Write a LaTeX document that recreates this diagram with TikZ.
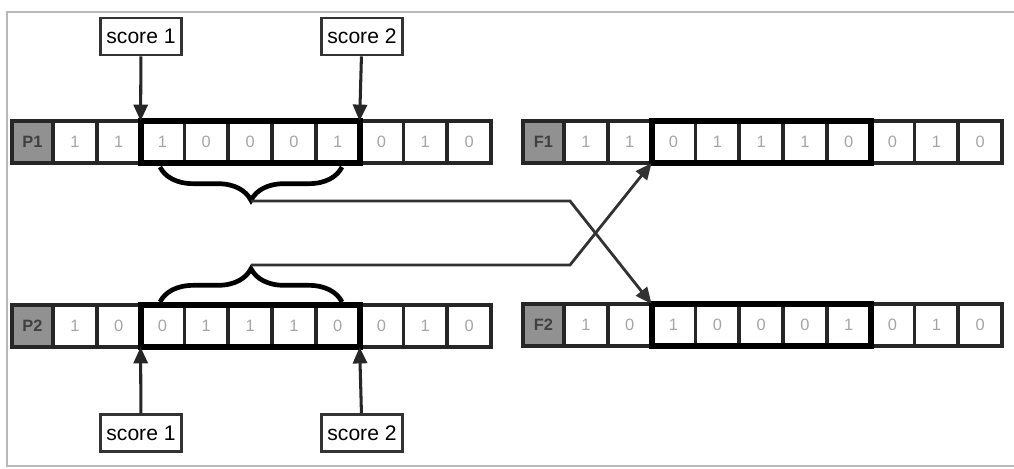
\documentclass[tikz,border=0pt]{standalone}
\usepackage{fontspec}
\setmainfont{Liberation Sans}
\usepackage{xcolor}
\usetikzlibrary{arrows.meta, decorations.pathreplacing}

\definecolor{tagfill}{RGB}{145,145,145}
\definecolor{bitgray}{RGB}{165,165,165}
\definecolor{wire}{RGB}{50,50,50}
\definecolor{framegray}{RGB}{185,185,185}

\tikzset{
    cell/.style={draw=black!85, line width=3pt, minimum width=1.314cm, minimum height=1.26cm,
        inner sep=0pt, outer sep=0pt, text=bitgray, font=\fontsize{14}{14}\selectfont},
    tag/.style={cell, fill=tagfill, minimum width=1.23cm, text=black!75,
        font=\bfseries\fontsize{14}{14}\selectfont},
    selbox/.style={draw=black, line width=5pt},
    scorebox/.style={draw=black!80, line width=2.5pt, fill=white, minimum width=2.43cm,
        minimum height=1.11cm, inner sep=0pt, font=\fontsize{18}{18}\selectfont},
    pointer/.style={-{Triangle[length=14pt, width=12pt]}, line width=2.6pt, draw=black!85},
    link/.style={pointer, draw=wire, line width=2.4pt},
    curly/.style={decorate, decoration={brace, amplitude=1cm}, line width=4pt}
}

\begin{document}
\begin{tikzpicture}[x=0.03cm, y=-0.03cm]
    \useasboundingbox (0,0) rectangle (1014,468);
    % frame
    \draw[framegray, line width=1.2pt] (1014,12) -- (7,12) -- (7,466) -- (1014,466);

    % chromosomes
    \foreach \row/\xo/\yo/\bits in {P1/12/142/{1,1,1,0,0,0,1,0,1,0},
                                    F1/523/142/{1,1,0,1,1,1,0,0,1,0},
                                    P2/12/326/{1,0,0,1,1,1,0,0,1,0},
                                    F2/523/325/{1,0,1,0,0,0,1,0,1,0}} {
        \node[tag] (\row-0) at (\xo+20.5,\yo) {\row};
        \foreach \b [count=\i] in \bits
            \node[cell] (\row-\i) at (\xo+41+43.8*\i-21.9,\yo) {\b};
        \draw[selbox] (\row-3.north west) rectangle (\row-7.south east);
    }

    % cut points
    \node[scorebox] (s1top) at (141,36.5) {score 1};
    \node[scorebox] (s2top) at (362,36.5) {score 2};
    \node[scorebox] (s1bot) at (141,433) {score 1};
    \node[scorebox] (s2bot) at (362,433) {score 2};
    \draw[pointer] (s1top) -- (P1-3.north west);
    \draw[pointer] (s2top) -- (P1-7.north east);
    \draw[pointer] (s1bot) -- (P2-3.south west);
    \draw[pointer] (s2bot) -- (P2-7.south east);

    % swapped segments
    \draw[curly, decoration={mirror}] (160,167) -- (342,167);
    \draw[curly] (160,302) -- (342,302);
    \coordinate (b1) at (251,201);
    \coordinate (b2) at (251,265);
    \coordinate (k1) at (570,201);
    \coordinate (k2) at (570,265);
    \draw[link] (b1) -- (k1) -- (F2-3.north west);
    \draw[link] (b2) -- (k2) -- (F1-3.south west);
\end{tikzpicture}
\end{document}
